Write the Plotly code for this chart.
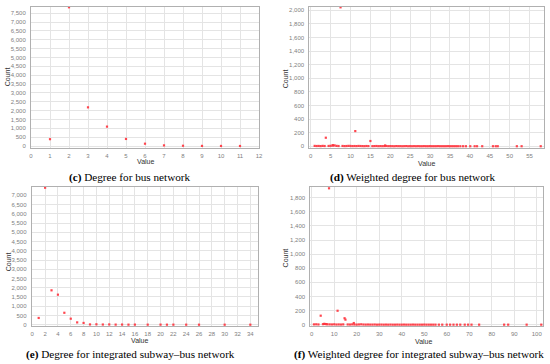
import plotly.graph_objects as go

W, H = 550, 364

# ---- (c) Degree for bus network ----
c_degree = [1, 2, 3, 4, 5, 6, 7, 8, 9, 10, 11]
c_count = [385, 7840, 2185, 1095, 398, 130, 35, 14, 6, 3, 1]

# ---- (d) Weighted degree for bus network ----
d_value = [1.0, 1.5, 2.0, 2.5, 3.0, 3.5, 3.8, 4.5, 5.0, 5.5, 5.6, 6.0, 6.5, 7.0, 7.5,
           8.0, 8.5, 9.0, 9.5, 10.0, 10.5, 11.0, 11.2, 11.5, 12.0, 12.5, 13.0, 13.5, 14.0,
           14.5, 15.0, 15.5, 16.0, 16.5, 17.0, 17.5, 18.0, 18.5, 18.7, 19.0, 19.5, 20.0,
           20.5, 21.0, 21.5, 22.0, 22.5, 23.0, 23.5, 24.0, 24.5, 25.0, 25.5, 26.0, 26.5,
           27.0, 27.5, 28.0, 28.5, 29.0, 29.5, 30.0, 30.5, 31.0, 31.5, 32.0, 32.5, 33.0,
           33.5, 34.0, 34.5, 35.0, 35.5, 36.0, 36.5, 37.0, 37.6, 38.3, 39.0, 40.1, 41.2,
           41.8, 43.1, 45.8, 46.5, 47.0, 51.8, 53.0, 57.8]
d_count = [6, 4, 5, 3, 6, 4, 126, 5, 7, 12, 15, 13, 6, 4, 2044,
           5, 3, 4, 6, 5, 3, 4, 224, 3, 5, 4, 3, 2, 4,
           3, 78, 2, 3, 4, 2, 3, 2, 3, 12, 4, 2, 3,
           2, 1, 3, 2, 2, 1, 2, 3, 1, 2, 1, 2, 1,
           2, 1, 1, 2, 1, 1, 2, 1, 1, 1, 2, 1, 1,
           1, 1, 2, 1, 1, 1, 1, 1, 1, 1, 1, 1, 1,
           1, 1, 1, 1, 1, 1, 1, 1]

# ---- (e) Degree for integrated subway-bus network ----
e_degree = [1, 2, 3, 4, 5, 6, 7, 8, 9, 10, 11, 12, 13, 14, 15, 16, 18, 20, 21, 22, 24, 26, 30, 34]
e_count = [365, 7410, 1860, 1625, 645, 325, 125, 95, 15, 22, 10, 15, 5, 8, 3, 5, 3, 4, 2, 3, 2, 1, 1, 1]

# ---- (f) Weighted degree for integrated subway-bus network ----
f_value = [1, 2, 3, 4.0, 5, 5.5, 6, 6.5, 7, 7.7, 8, 9, 10, 11, 11.5, 12, 13, 14, 14.6, 15.0,
           16, 17, 18, 18.7, 19, 20, 21, 22, 23, 24, 25, 26, 27, 28, 29, 30, 31, 32, 33,
           34, 35, 36, 37, 38, 39, 40, 41, 42, 43, 44, 45, 46, 47, 48, 49, 50, 51, 52,
           53, 54, 55, 56.5, 58, 60, 61.5, 63, 64.5, 66, 68, 69.5, 71, 74.4, 85.5, 87.3,
           95.5, 102.0]
f_count = [5, 6, 4, 128, 8, 12, 10, 9, 6, 1933, 5, 4, 6, 3, 198, 4, 3, 5, 92, 72,
           4, 3, 5, 24, 3, 2, 4, 6, 3, 2, 3, 2, 2, 3, 1, 2, 2, 1, 2,
           1, 2, 1, 1, 2, 1, 1, 2, 1, 1, 1, 2, 1, 1, 1, 1, 2, 1, 1,
           1, 1, 1, 1, 1, 1, 1, 1, 1, 1, 1, 1, 1, 1, 1, 1,
           1, 1]

# ---- tick settings ----
c_xticks = list(range(0, 13))
c_yticks = list(range(0, 8000, 500))
d_xticks = list(range(0, 60, 5))
d_yticks = list(range(0, 2200, 200))
e_xticks = list(range(0, 36, 2))
e_yticks = list(range(0, 7500, 500))
f_xticks = list(range(0, 110, 10))
f_yticks = list(range(0, 2000, 200))

captions = ["<b>(c)</b> Degree for bus network",
            "<b>(d)</b> Weighted degree for bus network",
            "<b>(e)</b> Degree for integrated subway\u2013bus network",
            "<b>(f)</b> Weighted degree for integrated subway\u2013bus network"]

# panel frames in pixels: left, right, top, bottom
panels = [
    dict(x=c_degree, y=c_count, px=(31, 259, 6.5, 147.5), xr=[0, 12], yr=[-85, 7884],
         xt=c_xticks, yt=c_yticks, count=(7.3, 77), value=(145, 161.5), cap=(130, 177)),
    dict(x=d_value, y=d_count, px=(309.3, 544.3, 6.7, 148), xr=[-0.35, 58.7], yr=[-25, 2053],
         xt=d_xticks, yt=d_yticks, count=(285.3, 79), value=(426.7, 163.5), cap=(412.7, 177)),
    dict(x=e_degree, y=e_count, px=(31.7, 257.7, 187.3, 326), xr=[-0.09, 35.15], yr=[-70, 7433],
         xt=e_xticks, yt=e_yticks, count=(8.3, 262), value=(139.3, 340), cap=(130.7, 354)),
    dict(x=f_value, y=f_count, px=(310.3, 543.3, 187.3, 326), xr=[-0.62, 102.9], yr=[-18, 1947],
         xt=f_xticks, yt=f_yticks, count=(285.7, 257.7), value=(423.3, 341.5), cap=(419, 354)),
]

fig = go.Figure()
annotations = []
tickfont = dict(family="'Liberation Sans', Arial, sans-serif", size=6, color="#808080")
labfont = dict(family="'Liberation Sans', Arial, sans-serif", size=7, color="#333333")
capfont = dict(family="'Liberation Serif', 'Times New Roman', serif", size=11.2, color="#000000")

for i, p in enumerate(panels):
    n = "" if i == 0 else str(i + 1)
    l, r, t, b = p["px"]
    fig.add_trace(go.Scatter(
        x=p["x"], y=p["y"], mode="markers",
        marker=dict(symbol="square", size=2.2, color="rgba(255,50,60,0.9)", line=dict(width=0)),
        xaxis="x" + n, yaxis="y" + n, showlegend=False, hoverinfo="x+y", cliponaxis=False))
    fig.update_layout(**{
        "xaxis" + n: dict(domain=[l / W, r / W], range=p["xr"], anchor="y" + n,
                          tickvals=p["xt"], tickfont=tickfont, showgrid=True,
                          gridcolor="#e4e4e4", gridwidth=1, zeroline=False,
                          showline=True, linecolor="#b0b0b0", linewidth=1, mirror=True,
                          ticks="", ticklabelstandoff=2, automargin=False),
        "yaxis" + n: dict(domain=[1 - b / H, 1 - t / H], range=p["yr"], anchor="x" + n,
                          tickvals=p["yt"], tickformat=",d", tickfont=tickfont, showgrid=True,
                          gridcolor="#e4e4e4", gridwidth=1, zeroline=False,
                          showline=True, linecolor="#b0b0b0", linewidth=1, mirror=True,
                          ticks="", ticklabelstandoff=3, automargin=False),
    })
    cx, cy = p["count"]
    annotations.append(dict(text="Count", x=cx / W, y=1 - cy / H, xref="paper", yref="paper",
                            showarrow=False, textangle=-90, font=labfont,
                            xanchor="center", yanchor="middle"))
    vx, vy = p["value"]
    annotations.append(dict(text="Value", x=vx / W, y=1 - vy / H, xref="paper", yref="paper",
                            showarrow=False, font=labfont, xanchor="center", yanchor="middle"))
    kx, ky = p["cap"]
    annotations.append(dict(text=captions[i], x=kx / W, y=1 - ky / H, xref="paper", yref="paper",
                            showarrow=False, font=capfont, xanchor="center", yanchor="middle"))

fig.update_layout(width=W, height=H, margin=dict(l=0, r=0, t=0, b=0),
                  paper_bgcolor="white", plot_bgcolor="white",
                  annotations=annotations)

fig.write_html("out.html", config={"displayModeBar": False},
               post_script="document.body.style.margin='0';document.body.style.overflow='hidden';")
